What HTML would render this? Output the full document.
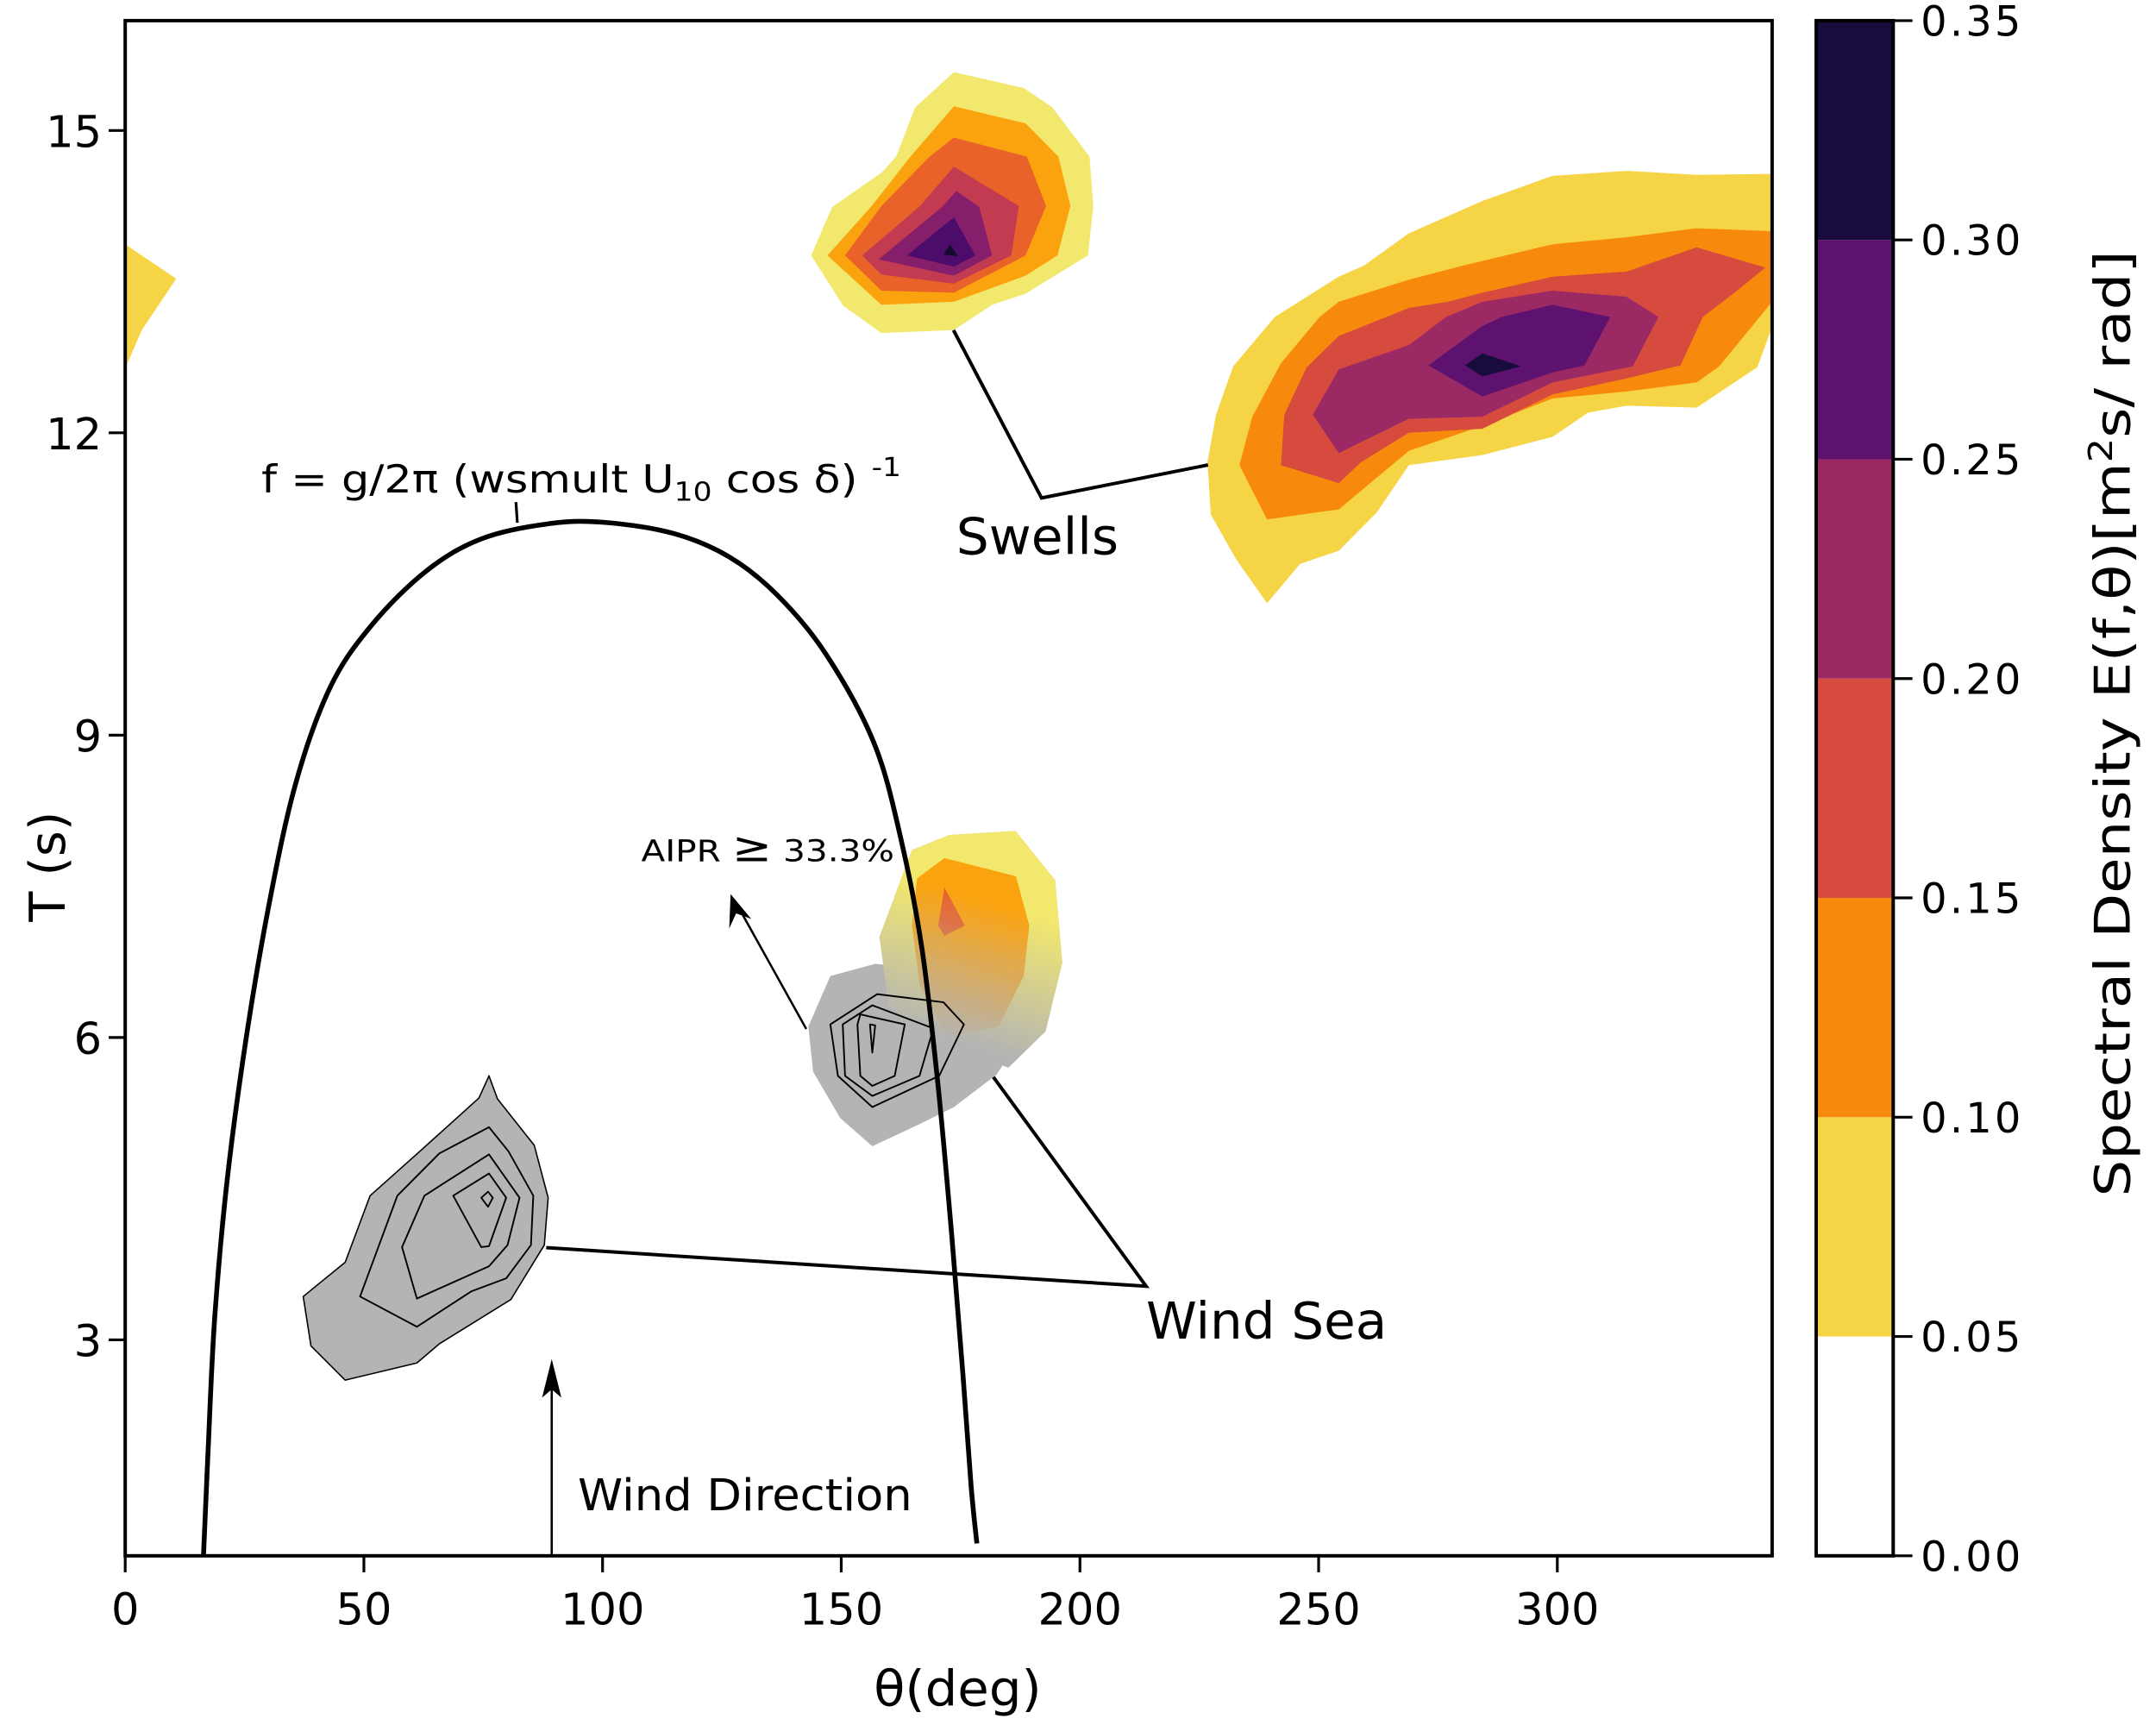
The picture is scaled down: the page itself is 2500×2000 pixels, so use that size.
<!DOCTYPE html>
<html><head><meta charset="utf-8"><style>
html,body{margin:0;padding:0;background:#fff;}
svg{display:block;}
text{font-family:"DejaVu Sans","Liberation Sans",sans-serif;}
</style></head><body>
<svg id="chart" xmlns="http://www.w3.org/2000/svg" width="2500" height="2000" viewBox="0 0 1567 1254" preserveAspectRatio="none">
<defs>
<linearGradient id="fadeGrad" gradientUnits="userSpaceOnUse" x1="700" y1="650" x2="670" y2="750">
<stop offset="0" stop-color="#fff"/>
<stop offset="1" stop-color="#000"/>
</linearGradient>
<mask id="fadeMask" maskUnits="userSpaceOnUse" x="0" y="0" width="1567" height="1254">
<rect x="0" y="0" width="1567" height="1254" fill="url(#fadeGrad)"/>
</mask>
</defs>
<g id="marks"></g>
<g id="axes"></g>
</svg>
<script>
// axis ranges
const thetaRange = [0, 345];
const periodRange = [0.857, 16.09];
const xTicks = [0, 50, 100, 150, 200, 250, 300];
const yTicks = [3, 6, 9, 12, 15];
const cbLevels = [0, 0.05, 0.10, 0.15, 0.20, 0.25, 0.30, 0.35];
const cbColors = ["#ffffff", "#f5d545", "#f78a0c", "#d74b3f", "#9b2964", "#5c126e", "#180c3c"];
const cbLabels = ["0.00", "0.05", "0.10", "0.15", "0.20", "0.25", "0.30", "0.35"];

// swell A (top centre) contour polygons [theta, T]
const swellA1 = [[173.6,15.58],[188.3,15.42],[194.2,15.23],[202.0,14.74],[202.8,14.25],[201.7,13.76],[188.6,13.38],[181.6,13.27],[173.6,13.02],[158.4,12.99],[150.4,13.26],[143.7,13.76],[148.1,14.24],[158.4,14.58],[161.5,14.74],[165.5,15.23]];
const swellA2 = [[173.6,15.24],[188.6,15.07],[195.5,14.74],[198.0,14.25],[195.3,13.76],[188.6,13.56],[173.6,13.30],[158.4,13.27],[147.1,13.76],[156.2,14.24],[164.5,14.74]];
const swellA3 = [[173.6,14.93],[188.9,14.74],[192.9,14.25],[188.6,13.76],[173.6,13.39],[158.4,13.41],[150.8,13.76],[158.4,14.25],[168.5,14.74]];
const swellA4 = [[173.6,14.64],[187.2,14.25],[185.6,13.76],[173.6,13.48],[158.4,13.57],[154.4,13.76],[166.5,14.25]];
const swellA5 = [[174.1,14.40],[178.9,14.24],[181.6,13.76],[173.6,13.56],[157.8,13.72],[171.1,14.24]];
const swellA6 = [[173.6,14.14],[178.1,13.76],[173.6,13.65],[163.8,13.76]];
const swellA7 = [[172.8,13.87],[174.5,13.75],[171.4,13.77]];
// swell B (right)
const swellB1 = [[299.0,14.55],[314.5,14.60],[329.2,14.56],[345,14.57],[345,13.05],[341.9,12.65],[329.2,12.25],[314.5,12.27],[306.4,12.20],[299.0,11.96],[284.3,11.78],[268.9,11.68],[262.2,11.21],[254.2,10.83],[246.1,10.70],[239.2,10.31],[232.8,10.74],[227.4,11.19],[226.7,11.71],[228.5,12.18],[232.1,12.66],[240.8,13.15],[254.2,13.55],[259.5,13.66],[268.9,13.98],[284.3,14.30]];
const swellB2 = [[329.2,14.03],[345,14.00],[345,13.30],[333.9,12.66],[329.2,12.50],[314.5,12.41],[299.0,12.34],[284.3,12.07],[268.9,11.82],[254.2,11.24],[239.2,11.14],[233.4,11.68],[236.1,12.16],[242.1,12.69],[250.2,13.15],[254.2,13.30],[268.9,13.52],[280.3,13.66],[299.0,13.87],[314.5,13.94]];
const swellB3 = [[329.2,13.84],[343.6,13.64],[337.9,13.42],[330.5,13.15],[325.8,12.67],[314.5,12.54],[299.0,12.38],[284.3,12.04],[268.9,12.00],[258.9,11.71],[254.2,11.50],[242.1,11.68],[242.8,12.18],[247.5,12.65],[254.2,12.96],[268.9,13.24],[277.0,13.30],[284.3,13.39],[299.0,13.55],[314.5,13.60]];
const swellB4 = [[299.0,13.41],[314.5,13.35],[321.2,13.15],[315.8,12.66],[299.0,12.50],[284.3,12.16],[268.9,12.14],[254.2,11.80],[248.8,12.18],[254.2,12.63],[268.9,12.87],[276.7,13.15],[284.3,13.30]];
const swellB5 = [[299.0,13.27],[311.1,13.15],[305.7,12.67],[299.0,12.60],[284.3,12.36],[273.0,12.67],[284.3,13.06],[288.3,13.15]];
const swellB6 = [[284.3,12.79],[292.4,12.66],[284.3,12.56],[280.7,12.67]];
const edgeBlob = [[0,13.87],[10.7,13.53],[3.5,13.02],[0,12.64]];
// wind sea colored blob
const windA1 = [[164.8,7.86],[172.6,8.01],[186.5,8.05],[194.8,7.56],[196.3,6.74],[192.8,6.06],[185,5.7],[175,5.9],[160,6.3],[158,7.0]];
const windA2 = [[165.9,7.58],[171.6,7.78],[186.6,7.60],[189.4,7.11],[188.2,6.61],[183.0,6.11],[172,6.0],[166.4,6.53],[164.8,7.11]];
const windA3 = [[171.6,7.49],[175.9,7.11],[171.6,7.01],[170.3,7.11]];
// AIPR gray regions and contour lines
const gray1 = [[143.1,6.11],[144.1,5.66],[149.8,5.20],[156.5,4.92],[166.4,5.14],[173.6,5.31],[182.5,5.63],[186.0,5.88],[184.0,6.3],[176.8,6.65],[157.1,6.73],[147.7,6.61]];
const gray1c1 = [[157.5,6.43],[171.4,6.35],[175.7,6.13],[170.5,5.62],[156.5,5.31],[149.3,5.62],[147.7,6.13]];
const gray1c2 = [[156.5,6.32],[169.3,6.09],[166.4,5.62],[156.5,5.42],[150.8,5.62],[150.3,6.13]];
const gray1c3 = [[154.0,6.23],[163.3,6.13],[161.2,5.62],[156.5,5.52],[154.0,5.62],[153.4,6.13]];
const gray1c4 = [[156.0,6.13],[157.1,6.12],[156.5,5.85]];
const gray2 = [[76.2,5.62],[78.0,5.39],[85.7,4.93],[88.6,4.41],[87.8,3.94],[80.8,3.40],[65.8,2.96],[61.1,2.77],[46.1,2.60],[38.9,2.94],[37.3,3.43],[46.1,3.77],[51.3,4.43],[61.7,4.87],[74.1,5.40]];
const gray2c1 = [[76.2,5.11],[80.3,4.87],[85.5,4.43],[85.0,3.94],[79.8,3.61],[72.5,3.48],[61.1,3.13],[49.2,3.43],[57.0,4.43],[65.8,4.85]];
const gray2c2 = [[76.2,4.84],[82.6,4.41],[80.1,3.94],[76.2,3.73],[61.1,3.41],[58.0,3.92],[62.7,4.43]];
const gray2c3 = [[76.2,4.65],[79.8,4.41],[76.2,3.93],[74.6,3.92],[68.7,4.43]];
const gray2c4 = [[76.0,4.47],[77.0,4.41],[76.0,4.32],[74.6,4.41]];
// wave-age curve
const curveTheta = [16.4,17.3,18.7,21.3,25.1,30.0,35.7,42.9,51.6,63.1,74.7,89.0,100.6,115.0,126.5,136.6,146.7,156.8,162.5,166.9,170.3,173.2,175.5,177.2,178.4];
const curveT = [0.86,1.83,3.19,4.56,5.92,7.29,8.52,9.47,10.09,10.63,10.95,11.10,11.11,11.00,10.77,10.39,9.81,8.93,7.97,6.88,5.51,4.01,2.65,1.55,0.98];

const PL=91, PR=1288, PT=15, PB=1131;
const CBL=1320, CBR=1376;
const xs = t => PL + (t - thetaRange[0])/(thetaRange[1]-thetaRange[0])*(PR-PL);
const ys = v => PB - (v - periodRange[0])/(periodRange[1]-periodRange[0])*(PB-PT);
const cy = v => PB - (v - cbLevels[0])/(cbLevels[cbLevels.length-1]-cbLevels[0])*(PB-PT);
const NS="http://www.w3.org/2000/svg";
const marks=document.getElementById('marks');
const axes=document.getElementById('axes');
function mk(tag, attrs, parent){const e=document.createElementNS(NS,tag);for(const k in attrs)e.setAttribute(k,attrs[k]);parent.appendChild(e);return e;}
const pts = arr => arr.map(p => xs(p[0]).toFixed(1)+','+ys(p[1]).toFixed(1)).join(' ');

function poly(arr, fill, name, stroke, sw, parent){
  const e=mk('polygon',{points:pts(arr),fill:fill,stroke:stroke||'none','stroke-width':sw||0,'stroke-linejoin':'round'},parent||marks);
  
  
  return e;
}
const swA=[[swellA1,'#f2e86d'],[swellA2,'#fba30f'],[swellA3,'#e8622a'],[swellA4,'#c23b50'],[swellA5,'#861f6b'],[swellA6,'#4c0c6b'],[swellA7,'#140b2f']];
swA.forEach((s,i)=>poly(s[0],s[1],'swell-a-level-'+(i+1)));
const swB=[[swellB1,'#f5d545'],[swellB2,'#f78a0c'],[swellB3,'#d74b3f'],[swellB4,'#9b2964'],[swellB5,'#5c126e'],[swellB6,'#180c3c']];
swB.forEach((s,i)=>poly(s[0],s[1],'swell-b-level-'+(i+1)));
poly(edgeBlob,'#f5d545','edge-swell-level-1');
poly(gray1,'#b4b4b4','aipr-region-upper');
poly(windA1,'#b4b4b4','aipr-region-under-wind-sea');
const wg=mk('g',{mask:'url(#fadeMask)'},marks);


poly(windA1,'#f2e86d','wind-sea-level-1',null,0,wg);
poly(windA2,'#fba30f','wind-sea-level-2',null,0,wg);
poly(windA3,'#e8622a','wind-sea-level-3',null,0,wg);
poly(gray2,'#b4b4b4','aipr-region-lower','#000',1);
[gray1c1,gray1c2,gray1c3,gray1c4].forEach((c,i)=>poly(c,'none','aipr-upper-contour-'+(i+1),'#000',1.2));
[gray2c1,gray2c2,gray2c3,gray2c4].forEach((c,i)=>poly(c,'none','aipr-lower-contour-'+(i+1),'#000',1.2));

// curve (smoothed Catmull-Rom)
const P = curveTheta.map((t,i)=>[xs(t), ys(curveT[i])]);
let cpath = 'M'+P[0][0].toFixed(1)+','+P[0][1].toFixed(1);
for(let i=0;i<P.length-1;i++){
  const p0=P[Math.max(i-1,0)], p1=P[i], p2=P[i+1], p3=P[Math.min(i+2,P.length-1)];
  const c1=[p1[0]+(p2[0]-p0[0])/6, p1[1]+(p2[1]-p0[1])/6];
  const c2=[p2[0]-(p3[0]-p1[0])/6, p2[1]-(p3[1]-p1[1])/6];
  cpath += ' C'+c1[0].toFixed(1)+','+c1[1].toFixed(1)+' '+c2[0].toFixed(1)+','+c2[1].toFixed(1)+' '+p2[0].toFixed(1)+','+p2[1].toFixed(1);
}
const cur=mk('path',{d:cpath,fill:'none',stroke:'#000','stroke-width':3.5,'stroke-linejoin':'round'},marks);



// frame
const fr=mk('rect',{x:PL,y:PT,width:PR-PL,height:PB-PT,fill:'none',stroke:'#000','stroke-width':2.5},axes);


xTicks.forEach(t=>{
  const l=mk('line',{x1:xs(t),x2:xs(t),y1:PB,y2:PB+12,stroke:'#000','stroke-width':2},axes);
  
  
  const tx=mk('text',{x:xs(t),y:PB+50,'text-anchor':'middle','font-size':32},axes);
  tx.textContent=t;
  
  
});
yTicks.forEach(t=>{
  const l=mk('line',{x1:PL-12,x2:PL,y1:ys(t),y2:ys(t),stroke:'#000','stroke-width':2},axes);
  
  
  const tx=mk('text',{x:PL-17,y:ys(t)+12,'text-anchor':'end','font-size':32},axes);
  tx.textContent=t;
  
  
});
// colorbar
cbColors.forEach((c,i)=>{
  const r=mk('rect',{x:CBL,y:cy(cbLevels[i+1]),width:CBR-CBL,height:cy(cbLevels[i])-cy(cbLevels[i+1]),fill:c},axes);
  
  
});
const cbf=mk('rect',{x:CBL,y:PT,width:CBR-CBL,height:PB-PT,fill:'none',stroke:'#000','stroke-width':2.5},axes);


cbLevels.forEach((v,i)=>{
  const l=mk('line',{x1:CBR,x2:CBR+14,y1:cy(v),y2:cy(v),stroke:'#000','stroke-width':2},axes);
  
  
  const tx=mk('text',{x:CBR+20,y:cy(v)+11,'font-size':30,'letter-spacing':'2'},axes);
  tx.textContent=cbLabels[i];
  
  
});
</script>
<svg style="position:absolute;left:0;top:0" width="2500" height="2000" viewBox="0 0 1567 1254" preserveAspectRatio="none" xmlns="http://www.w3.org/2000/svg">
<text x="635" y="1240" textLength="122" lengthAdjust="spacingAndGlyphs" font-size="36" font-family="DejaVu Sans, Liberation Sans, sans-serif">θ(deg)</text>
<text transform="translate(47,630) rotate(-90)" text-anchor="middle" font-size="36" font-family="DejaVu Sans, Liberation Sans, sans-serif">T (s)</text>
<text transform="translate(1548,870) rotate(-90)" textLength="688" lengthAdjust="spacingAndGlyphs" font-size="36" font-family="DejaVu Sans, Liberation Sans, sans-serif">Spectral Density  E(f,θ)[m<tspan font-size="24" dy="-13">2</tspan><tspan dy="13">s/ rad]</tspan></text>
<text x="190" y="358" font-size="28" font-family="DejaVu Sans, Liberation Sans, sans-serif" textLength="465" lengthAdjust="spacingAndGlyphs">f = g/2π (wsmult U<tspan font-size="19" dy="6">10</tspan><tspan dy="-6"> cos δ) </tspan><tspan font-size="19" dy="-12">-1</tspan></text>
<line x1="375" y1="365" x2="376" y2="380" stroke="#000" stroke-width="2"/>
<polyline points="693,240 757,362 878,338" fill="none" stroke="#000" stroke-width="2.5"/>
<text x="695" y="403" font-size="37" textLength="118" lengthAdjust="spacingAndGlyphs" font-family="DejaVu Sans, Liberation Sans, sans-serif">Swells</text>
<polyline points="397,907 833,935 722,783" fill="none" stroke="#000" stroke-width="2.5"/>
<text x="833" y="973" font-size="37" textLength="175" lengthAdjust="spacingAndGlyphs" font-family="DejaVu Sans, Liberation Sans, sans-serif">Wind Sea</text>
<text x="466" y="626" font-size="22" textLength="184" lengthAdjust="spacingAndGlyphs" font-family="DejaVu Sans, Liberation Sans, sans-serif">AIPR <tspan font-size="30">≥</tspan> 33.3%</text>
<line x1="586" y1="748" x2="537" y2="660" stroke="#000" stroke-width="1.6"/>
<polygon points="531,650 546,668 535,664 530,675" fill="#000"/>
<line x1="401" y1="1131" x2="401" y2="1005" stroke="#000" stroke-width="1.6"/>
<polygon points="401,988 408,1016 401,1010 394,1016" fill="#000"/>
<text x="420" y="1098" font-size="32" textLength="243" lengthAdjust="spacingAndGlyphs" font-family="DejaVu Sans, Liberation Sans, sans-serif">Wind Direction</text>
</svg>
</body></html>
